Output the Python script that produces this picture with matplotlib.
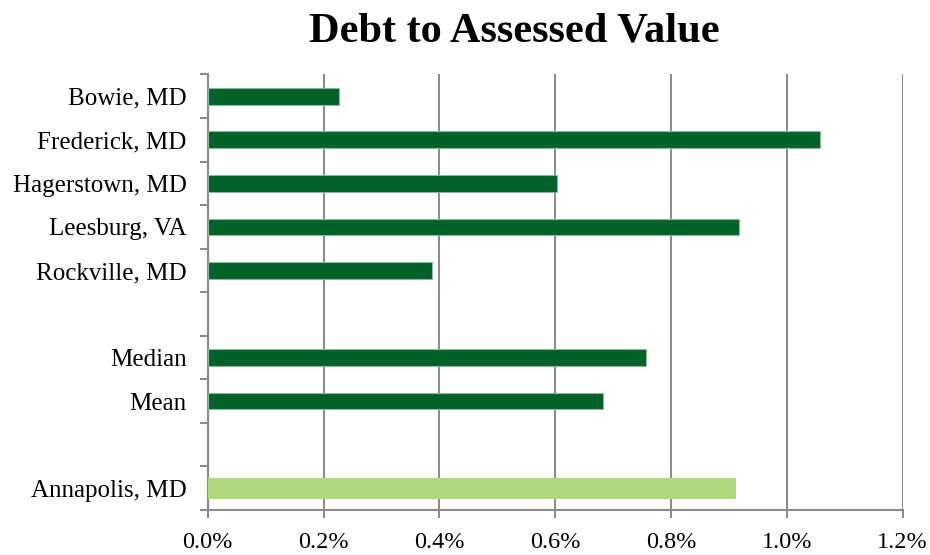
import matplotlib.pyplot as plt
from matplotlib.ticker import FuncFormatter, MultipleLocator
import numpy as np

plt.rcParams['font.family'] = ['Liberation Serif', 'DejaVu Serif']

# debt to assessed value, in percent
cities = ["Bowie, MD", "Frederick, MD", "Hagerstown, MD", "Leesburg, VA", "Rockville, MD"]
city_vals = [0.227, 1.058, 0.603, 0.918, 0.387]
stat_names = ["Median", "Mean"]
stat_vals = [0.757, 0.682]
home_name = "Annapolis, MD"
home_val = 0.912

labels = cities + [""] + stat_names + [""] + [home_name]
dark_vals = city_vals + [np.nan] + stat_vals + [np.nan, np.nan]
light_vals = [np.nan] * 9 + [home_val]

fig = plt.figure(figsize=(9.3, 5.55), dpi=100)
ax = fig.add_axes([0.2233, 0.0811, 0.7473, 0.7847])

y = np.arange(len(labels))
ax.barh(y, dark_vals, height=0.385, color="#006228", edgecolor="#8fb89a", linewidth=0.8, zorder=3)
ax.barh(y, light_vals, height=0.48, color="#b0d77b", linewidth=0, zorder=3)

ax.set_xlim(0, 1.2)
ax.set_ylim(len(labels) - 0.5, -0.5)
ax.xaxis.set_major_locator(MultipleLocator(0.2))
ax.xaxis.set_major_formatter(FuncFormatter(lambda v, p: f"{v:.1f}%"))
ax.grid(axis="x", color="#8c8c8c", linewidth=1.5, zorder=0)

# category labels at centers, tick marks between slots
ax.set_yticks(y)
ax.set_yticklabels(labels)
ax.set_yticks(np.arange(-0.5, len(labels) + 0.5, 1), minor=True)
ax.tick_params(axis="y", which="major", length=0, pad=15, labelsize=18)
ax.tick_params(axis="y", which="minor", length=6, width=1.5, color="#8c8c8c")
ax.tick_params(axis="x", length=6, width=1.5, color="#8c8c8c", labelsize=17.5, pad=10)

for s in ["top", "right"]:
    ax.spines[s].set_visible(False)
for s in ["left", "bottom"]:
    ax.spines[s].set_color("#8c8c8c")
    ax.spines[s].set_linewidth(1.5)

fig.text(0.553, 0.926, "Debt to Assessed Value", ha="center", va="baseline",
         fontsize=30.5, fontweight="bold")

fig.savefig("out.png", dpi=100)
